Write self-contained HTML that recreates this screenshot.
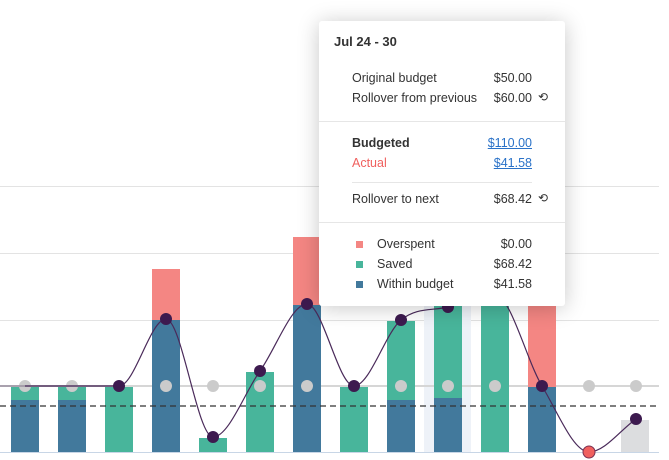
<!DOCTYPE html>
<html><head><style>
body{margin:0;width:669px;height:460px;overflow:hidden;background:#fff;font-family:"Liberation Sans",sans-serif;position:relative}
.tt{position:absolute;left:319px;top:21px;width:246px;height:285px;background:#fff;border-radius:3px;box-shadow:0 2px 22px rgba(0,0,0,0.22)}
.t{position:absolute;font-size:12.5px;color:#333;line-height:16px;white-space:nowrap}
.r{text-align:right;width:120px}
.sep{position:absolute;height:1px;background:#e6e6e6}
.sq{position:absolute;width:7px;height:7px}
.ic{position:absolute;font-size:12px;color:#333}
</style></head><body>
<svg width="669" height="460" style="position:absolute;left:0;top:0">
<g stroke="#e3e3e3" stroke-width="1">
<line x1="0" y1="186.5" x2="659" y2="186.5"/>
<line x1="0" y1="253.5" x2="659" y2="253.5"/>
<line x1="0" y1="320.5" x2="659" y2="320.5"/>
</g>
<rect x="424" y="290" width="47" height="162" fill="#eef2f8"/>
<line x1="0" y1="386" x2="659" y2="386" stroke="#d6d6d6" stroke-width="2"/>
<!-- bars -->
<rect x="11" y="387" width="28" height="13" fill="#48b59b"/><rect x="11" y="400" width="28" height="52" fill="#42799c"/>
<rect x="58" y="387" width="28" height="13" fill="#48b59b"/><rect x="58" y="400" width="28" height="52" fill="#42799c"/>
<rect x="105" y="387" width="28" height="65" fill="#48b59b"/>
<rect x="152" y="269" width="28" height="51" fill="#f48683"/><rect x="152" y="320" width="28" height="132" fill="#42799c"/>
<rect x="199" y="438" width="28" height="14" fill="#48b59b"/>
<rect x="246" y="372" width="28" height="80" fill="#48b59b"/>
<rect x="293" y="237" width="28" height="68" fill="#f48683"/><rect x="293" y="305" width="28" height="147" fill="#42799c"/>
<rect x="340" y="387" width="28" height="65" fill="#48b59b"/>
<rect x="387" y="321" width="28" height="79" fill="#48b59b"/><rect x="387" y="400" width="28" height="52" fill="#42799c"/>
<rect x="434" y="280" width="28" height="118" fill="#48b59b"/><rect x="434" y="398" width="28" height="54" fill="#42799c"/>
<rect x="481" y="280" width="28" height="172" fill="#48b59b"/>
<rect x="528" y="280" width="28" height="107" fill="#f48683"/><rect x="528" y="387" width="28" height="65" fill="#42799c"/>
<rect x="621" y="420" width="28" height="32" fill="#dcdddf"/>
<line x1="0" y1="452.5" x2="659" y2="452.5" stroke="#c8d6e6" stroke-width="1"/>
<line x1="0" y1="406" x2="659" y2="406" stroke="#333" stroke-width="1.2" stroke-dasharray="6,4"/>
<g fill="#cbcbcb">
<circle cx="25" cy="386" r="6"/><circle cx="72" cy="386" r="6"/><circle cx="166" cy="386" r="6"/><circle cx="213" cy="386" r="6"/><circle cx="260" cy="386" r="6"/><circle cx="307" cy="386" r="6"/><circle cx="401" cy="386" r="6"/><circle cx="448" cy="386" r="6"/><circle cx="495" cy="386" r="6"/><circle cx="589" cy="386" r="6"/><circle cx="636" cy="386" r="6"/>
</g>
<line x1="0" y1="386" x2="119" y2="386" stroke="#9a8fa0" stroke-width="1.5"/>
<path d="M25,386 C40.7,386 56.3,386 72,386 C87.7,386 103.3,386 119,386 C134.7,386 150.3,319 166,319 C181.7,319 197.3,437 213,437 C228.7,437 244.3,393 260,371 C275.7,349 291.3,304 307,304 C322.7,304 338.3,386 354,386 C369.7,386 385.3,333 401,320 C416.7,307 432.3,311 448,307 C463.7,303 479.3,295 495,295 C510.7,295 526.3,360 542,386 C557.7,412 573.3,452 589,452 C604.7,452 620.3,430 636,419" fill="none" stroke="#4a2a5a" stroke-width="1.2"/>
<g fill="#3d1a4f">
<circle cx="119" cy="386" r="6"/><circle cx="166" cy="319" r="6"/><circle cx="213" cy="437" r="6"/><circle cx="260" cy="371" r="6"/><circle cx="307" cy="304" r="6"/><circle cx="354" cy="386" r="6"/><circle cx="401" cy="320" r="6"/><circle cx="448" cy="307" r="6"/><circle cx="542" cy="386" r="6"/><circle cx="636" cy="419" r="6"/>
</g>
<circle cx="589" cy="452" r="6" fill="#f0605e" stroke="#7a3050" stroke-width="1"/>
</svg>
<div class="tt"></div>
<div class="t" style="left:334px;top:34px;font-weight:bold;font-size:13px">Jul 24 - 30</div>
<div class="t" style="left:352px;top:70px">Original budget</div><div class="t r" style="left:412px;top:70px">$50.00</div>
<div class="t" style="left:352px;top:90px">Rollover from previous</div><div class="t r" style="left:412px;top:90px">$60.00</div><div class="ic" style="left:538px;top:90px">⟲</div>
<div class="sep" style="left:319px;top:121px;width:246px"></div>
<div class="t" style="left:352px;top:135px;font-weight:bold">Budgeted</div><div class="t r" style="left:412px;top:135px;color:#2a72c8;text-decoration:underline">$110.00</div>
<div class="t" style="left:352px;top:155px;color:#f0605e">Actual</div><div class="t r" style="left:412px;top:155px;color:#2a72c8;text-decoration:underline">$41.58</div>
<div class="sep" style="left:352px;top:182px;width:180px"></div>
<div class="t" style="left:352px;top:191px">Rollover to next</div><div class="t r" style="left:412px;top:191px">$68.42</div><div class="ic" style="left:538px;top:191px">⟲</div>
<div class="sep" style="left:319px;top:222px;width:246px"></div>
<div class="sq" style="left:356px;top:241px;background:#f48683"></div><div class="t" style="left:377px;top:236px">Overspent</div><div class="t r" style="left:412px;top:236px">$0.00</div>
<div class="sq" style="left:356px;top:261px;background:#48b59b"></div><div class="t" style="left:377px;top:256px">Saved</div><div class="t r" style="left:412px;top:256px">$68.42</div>
<div class="sq" style="left:356px;top:281px;background:#42799c"></div><div class="t" style="left:377px;top:276px">Within budget</div><div class="t r" style="left:412px;top:276px">$41.58</div>
</body></html>
